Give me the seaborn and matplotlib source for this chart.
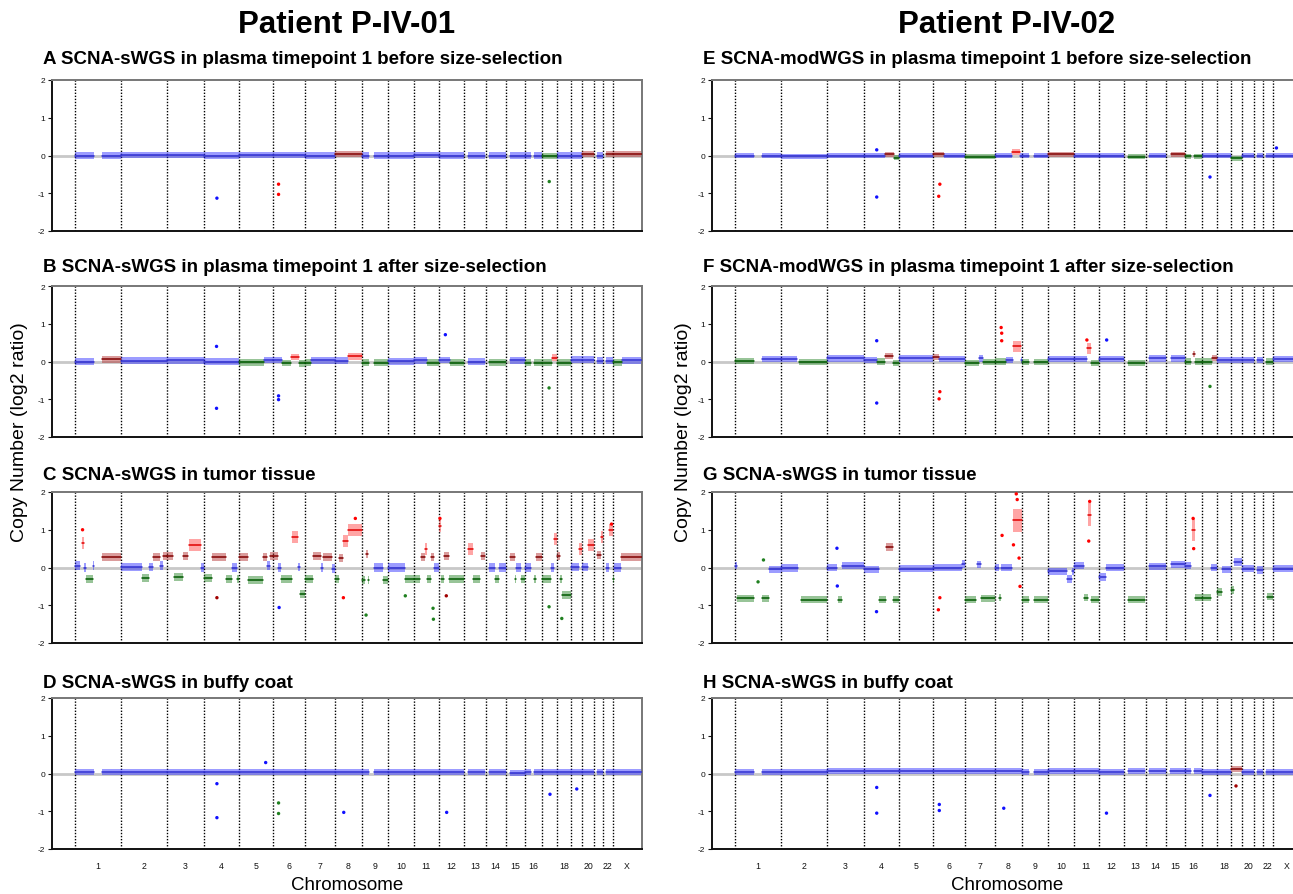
import numpy as np
import pandas as pd
import matplotlib
matplotlib.use('Agg')
import matplotlib.pyplot as plt
import seaborn as sns

# ---------------- genome layout ----------------
CHROMS = ['1', '2', '3', '4', '5', '6', '7', '8', '9', '10', '11', '12', '13', '14',
          '15', '16', '17', '18', '19', '20', '21', '22', 'X']
CHROM_LEN = [249.25, 243.2, 198.0, 191.15, 180.9, 171.1, 159.1, 146.4, 141.2, 135.5,
             135.0, 133.85, 115.2, 107.35, 102.5, 90.35, 81.2, 78.1, 59.1, 63.0, 48.1,
             51.3, 155.3]
TICK_CHROMS = ['1', '2', '3', '4', '5', '6', '7', '8', '9', '10', '11', '12', '13', '14',
               '15', '16', '18', '20', '22', 'X']
X_START = -120.0  # Mb, left margin of the genome axis

PATIENTS = ['Patient P-IV-01', 'Patient P-IV-02']
TITLES_LEFT = ['A SCNA-sWGS in plasma timepoint 1 before size-selection',
               'B SCNA-sWGS in plasma timepoint 1 after size-selection',
               'C SCNA-sWGS in tumor tissue',
               'D SCNA-sWGS in buffy coat']
TITLES_RIGHT = ['E SCNA-modWGS in plasma timepoint 1 before size-selection',
                'F SCNA-modWGS in plasma timepoint 1 after size-selection',
                'G SCNA-sWGS in tumor tissue',
                'H SCNA-sWGS in buffy coat']

# segments: (chromosome, start Mb, end Mb, log2 ratio, state)
# state: N neutral, G gain, A amplification, L loss
SEG_A = [
    ('1', 0, 105, 0.0, 'N'), ('1', 144, 249, 0.0, 'N'), ('2', 0, 243, 0.01, 'N'),
    ('3', 0, 198, 0.02, 'N'), ('4', 0, 191, 0.0, 'N'), ('5', 0, 181, 0.01, 'N'),
    ('6', 0, 171, 0.01, 'N'), ('7', 0, 159, 0.0, 'N'), ('8', 0, 146, 0.04, 'G'),
    ('9', 0, 39, 0.0, 'N'), ('9', 66, 141, 0.0, 'N'), ('10', 0, 135, 0.0, 'N'),
    ('11', 0, 135, 0.01, 'N'), ('12', 0, 134, 0.0, 'N'), ('13', 20, 115, 0.0, 'N'),
    ('14', 20, 107, 0.0, 'N'), ('15', 22, 102, 0.0, 'N'), ('16', 0, 32, 0.0, 'N'),
    ('16', 50, 90, 0.0, 'N'), ('17', 0, 81, -0.02, 'L'), ('18', 0, 78, 0.0, 'N'),
    ('19', 0, 59, 0.0, 'N'), ('20', 0, 63, 0.03, 'G'), ('21', 16, 48, 0.0, 'N'),
    ('22', 18, 51, 0.03, 'G'), ('X', 0, 155, 0.04, 'G'),
]
OUT_A = [('4', 71, -1.13, 'N'), ('6', 29, -0.76, 'A'), ('6', 29, -1.03, 'A'),
         ('17', 41, -0.69, 'L')]

SEG_B = [
    ('1', 0, 105, 0.0, 'N'), ('1', 144, 249, 0.06, 'G'), ('2', 0, 243, 0.02, 'N'),
    ('3', 0, 198, 0.03, 'N'), ('4', 0, 191, 0.0, 'N'), ('5', 0, 130, -0.02, 'L'),
    ('5', 130, 181, 0.04, 'N'), ('6', 0, 46, 0.04, 'N'), ('6', 46, 98, -0.04, 'L'),
    ('6', 98, 136, 0.12, 'A'), ('6', 136, 171, -0.05, 'L'), ('7', 0, 31, -0.03, 'L'),
    ('7', 31, 159, 0.03, 'N'), ('8', 0, 71, 0.02, 'N'), ('8', 71, 146, 0.14, 'A'),
    ('9', 0, 39, -0.03, 'L'), ('9', 66, 141, -0.03, 'L'), ('10', 0, 135, 0.01, 'N'),
    ('11', 0, 70, 0.03, 'N'), ('11', 70, 135, -0.03, 'L'), ('12', 0, 58, 0.04, 'N'),
    ('12', 58, 134, -0.03, 'L'), ('13', 20, 115, 0.0, 'N'), ('14', 20, 107, -0.02, 'L'),
    ('15', 22, 102, 0.03, 'N'), ('16', 0, 32, -0.03, 'L'), ('16', 50, 90, -0.03, 'L'),
    ('17', 0, 55, -0.03, 'L'), ('17', 55, 81, 0.1, 'A'), ('18', 0, 78, -0.03, 'L'),
    ('19', 0, 59, 0.05, 'N'), ('20', 0, 63, 0.05, 'N'), ('21', 16, 48, 0.02, 'N'),
    ('22', 18, 51, 0.02, 'N'), ('X', 0, 51, -0.02, 'L'), ('X', 51, 155, 0.03, 'N'),
]
OUT_B = [('4', 69, 0.4, 'N'), ('4', 69, -1.24, 'N'), ('6', 29, -0.91, 'N'),
         ('6', 29, -1.01, 'N'), ('12', 34, 0.71, 'N'), ('17', 40, -0.7, 'L')]

SEG_C = [
    ('1', 0, 30, 0.05, 'N'), ('1', 38, 50, 0.65, 'A'), ('1', 50, 60, 0.0, 'N'),
    ('1', 62, 98, -0.3, 'L'), ('1', 98, 105, 0.05, 'N'), ('1', 144, 249, 0.28, 'G'),
    ('2', 0, 110, 0.02, 'N'), ('2', 113, 148, -0.28, 'L'), ('2', 150, 170, 0.02, 'N'),
    ('2', 172, 205, 0.27, 'G'), ('2', 205, 225, 0.05, 'N'), ('2', 225, 243, 0.3, 'G'),
    ('3', 0, 36, 0.3, 'G'), ('3', 38, 88, -0.25, 'L'), ('3', 90, 115, 0.3, 'G'),
    ('3', 118, 185, 0.6, 'A'), ('3', 185, 198, 0.0, 'N'),
    ('4', 0, 45, -0.28, 'L'), ('4', 45, 122, 0.27, 'G'), ('4', 122, 152, -0.3, 'L'),
    ('4', 152, 178, 0.0, 'N'), ('4', 178, 191, -0.3, 'L'),
    ('5', 0, 45, 0.28, 'G'), ('5', 48, 125, -0.33, 'L'), ('5', 125, 150, 0.28, 'G'),
    ('5', 150, 165, 0.05, 'N'), ('5', 165, 181, 0.3, 'G'),
    ('6', 0, 25, 0.3, 'G'), ('6', 25, 40, 0.0, 'N'), ('6', 40, 100, -0.3, 'L'),
    ('6', 103, 135, 0.82, 'A'), ('6', 135, 142, 0.02, 'N'), ('6', 142, 171, -0.7, 'L'),
    ('7', 0, 45, -0.3, 'L'), ('7', 45, 85, 0.3, 'G'), ('7', 85, 95, 0.0, 'N'),
    ('7', 95, 145, 0.28, 'G'), ('7', 145, 159, -0.03, 'N'),
    ('8', 0, 20, -0.3, 'L'), ('8', 22, 42, 0.25, 'G'), ('8', 44, 70, 0.7, 'A'),
    ('8', 70, 146, 1.0, 'A'),
    ('9', 0, 18, -0.33, 'L'), ('9', 20, 30, 0.35, 'G'), ('9', 30, 39, -0.33, 'L'),
    ('9', 66, 110, 0.0, 'N'), ('9', 110, 141, -0.33, 'L'),
    ('10', 0, 90, 0.0, 'N'), ('10', 90, 135, -0.3, 'L'),
    ('11', 0, 32, -0.3, 'L'), ('11', 40, 58, 0.28, 'G'), ('11', 58, 70, 0.5, 'A'),
    ('11', 70, 94, -0.3, 'L'), ('11', 94, 110, 0.28, 'G'), ('11', 110, 135, 0.0, 'N'),
    ('12', 0, 10, 1.1, 'A'), ('12', 10, 25, -0.3, 'L'), ('12', 25, 55, 0.3, 'G'),
    ('12', 55, 134, -0.3, 'L'),
    ('13', 20, 50, 0.5, 'A'), ('13', 50, 88, -0.3, 'L'), ('13', 90, 115, 0.3, 'G'),
    ('14', 20, 50, 0.0, 'N'), ('14', 50, 70, -0.3, 'L'), ('14', 70, 107, 0.0, 'N'),
    ('15', 22, 50, 0.28, 'G'), ('15', 50, 56, -0.3, 'L'), ('15', 56, 80, 0.0, 'N'),
    ('15', 80, 102, -0.3, 'L'),
    ('16', 0, 32, 0.0, 'N'), ('16', 50, 58, -0.3, 'L'), ('16', 58, 90, 0.28, 'G'),
    ('17', 0, 52, -0.3, 'L'), ('17', 52, 64, 0.0, 'N'), ('17', 64, 81, 0.75, 'A'),
    ('18', 0, 15, 0.3, 'G'), ('18', 15, 28, -0.3, 'L'), ('18', 28, 78, -0.72, 'L'),
    ('19', 0, 40, 0.02, 'N'), ('19', 40, 59, 0.5, 'A'),
    ('20', 0, 30, 0.02, 'N'), ('20', 30, 63, 0.6, 'A'),
    ('21', 16, 38, 0.33, 'G'), ('21', 38, 48, 0.8, 'A'),
    ('22', 18, 32, 0.0, 'N'), ('22', 32, 51, 1.0, 'A'),
    ('X', 0, 8, -0.3, 'L'), ('X', 8, 45, 0.0, 'N'), ('X', 45, 155, 0.27, 'G'),
]
OUT_C = [('4', 71, -0.8, 'G'), ('6', 32, -1.06, 'N'), ('8', 46, -0.8, 'A'),
         ('9', 21, -1.26, 'L'), ('10', 90, -0.75, 'L'), ('11', 103, -1.08, 'L'),
         ('11', 105, -1.37, 'L'), ('12', 39, -0.75, 'G'), ('17', 40, -1.04, 'L'),
         ('18', 27, -1.35, 'L'), ('1', 42, 1.0, 'A'), ('12', 5, 1.3, 'A'),
         ('8', 110, 1.3, 'A'), ('22', 45, 1.15, 'A')]

SEG_D = [
    ('1', 0, 105, 0.03, 'N'), ('1', 144, 249, 0.03, 'N'), ('2', 0, 243, 0.03, 'N'),
    ('3', 0, 198, 0.04, 'N'), ('4', 0, 191, 0.04, 'N'), ('5', 0, 181, 0.04, 'N'),
    ('6', 0, 171, 0.03, 'N'), ('7', 0, 159, 0.03, 'N'), ('8', 0, 146, 0.03, 'N'),
    ('9', 0, 39, 0.03, 'N'), ('9', 66, 141, 0.03, 'N'), ('10', 0, 135, 0.03, 'N'),
    ('11', 0, 135, 0.04, 'N'), ('12', 0, 134, 0.03, 'N'), ('13', 20, 115, 0.03, 'N'),
    ('14', 20, 107, 0.03, 'N'), ('15', 22, 102, 0.02, 'N'), ('16', 0, 32, 0.03, 'N'),
    ('16', 50, 90, 0.03, 'N'), ('17', 0, 81, 0.03, 'N'), ('18', 0, 78, 0.03, 'N'),
    ('19', 0, 59, 0.05, 'N'), ('20', 0, 63, 0.04, 'N'), ('21', 16, 48, 0.03, 'N'),
    ('22', 18, 51, 0.03, 'N'), ('X', 0, 155, 0.03, 'N'),
]
OUT_D = [('4', 71, -0.27, 'N'), ('4', 71, -1.17, 'N'), ('5', 141, 0.29, 'N'),
         ('6', 29, -0.78, 'L'), ('6', 29, -1.06, 'L'), ('8', 48, -1.03, 'N'),
         ('12', 41, -1.03, 'N'), ('17', 45, -0.55, 'N'), ('19', 29, -0.41, 'N')]

SEG_E = [
    ('1', 0, 105, 0.0, 'N'), ('1', 144, 249, 0.0, 'N'), ('2', 0, 243, -0.02, 'N'),
    ('3', 0, 198, 0.0, 'N'), ('4', 0, 114, 0.0, 'N'), ('4', 114, 165, 0.03, 'G'),
    ('4', 165, 191, -0.06, 'L'), ('5', 0, 181, 0.0, 'N'), ('6', 0, 56, 0.03, 'G'),
    ('6', 56, 171, 0.0, 'N'), ('7', 0, 159, -0.03, 'L'), ('8', 0, 91, 0.0, 'N'),
    ('8', 91, 136, 0.1, 'A'), ('8', 136, 146, 0.0, 'N'), ('9', 0, 39, 0.0, 'N'),
    ('9', 66, 141, 0.0, 'N'), ('10', 0, 135, 0.03, 'G'), ('11', 0, 135, 0.0, 'N'),
    ('12', 0, 134, 0.0, 'N'), ('13', 20, 115, -0.03, 'L'), ('14', 20, 107, 0.0, 'N'),
    ('15', 28, 102, 0.03, 'G'), ('16', 0, 32, -0.02, 'L'), ('16', 50, 90, -0.02, 'L'),
    ('17', 0, 81, 0.0, 'N'), ('18', 0, 78, 0.0, 'N'), ('19', 0, 59, -0.07, 'L'),
    ('20', 0, 63, 0.0, 'N'), ('21', 16, 48, 0.0, 'N'), ('22', 18, 51, 0.0, 'N'),
    ('X', 0, 155, 0.0, 'N'),
]
OUT_E = [('4', 70, -1.1, 'N'), ('4', 70, 0.15, 'N'), ('6', 36, -0.76, 'A'),
         ('6', 30, -1.08, 'A'), ('17', 45, -0.57, 'N'), ('X', 20, 0.2, 'N')]

SEG_F = [
    ('1', 0, 105, 0.02, 'L'), ('1', 144, 249, 0.07, 'N'), ('2', 0, 85, 0.06, 'N'),
    ('2', 95, 243, -0.02, 'L'), ('3', 0, 198, 0.08, 'N'), ('4', 0, 73, 0.05, 'N'),
    ('4', 73, 114, 0.0, 'L'), ('4', 114, 158, 0.15, 'G'), ('4', 158, 191, -0.05, 'L'),
    ('5', 0, 181, 0.08, 'N'), ('6', 0, 30, 0.12, 'G'), ('6', 30, 171, 0.07, 'N'),
    ('7', 0, 76, -0.03, 'L'), ('7', 76, 97, 0.08, 'N'), ('7', 97, 159, -0.02, 'L'),
    ('8', 0, 59, 0.0, 'L'), ('8', 59, 95, 0.05, 'N'), ('8', 95, 140, 0.4, 'A'),
    ('8', 140, 146, 0.05, 'N'), ('9', 0, 39, -0.02, 'L'), ('9', 66, 141, -0.02, 'L'),
    ('10', 0, 135, 0.07, 'N'), ('11', 0, 68, 0.07, 'N'), ('11', 68, 90, 0.35, 'A'),
    ('11', 90, 135, -0.03, 'L'), ('12', 0, 134, 0.07, 'N'), ('13', 20, 115, -0.03, 'L'),
    ('14', 20, 107, 0.08, 'N'), ('15', 28, 102, 0.08, 'N'), ('16', 0, 32, 0.0, 'L'),
    ('16', 46, 56, 0.2, 'G'), ('16', 56, 90, 0.0, 'L'), ('17', 0, 55, 0.0, 'L'),
    ('17', 55, 81, 0.1, 'G'), ('18', 0, 78, 0.05, 'N'), ('19', 0, 59, 0.05, 'N'),
    ('20', 0, 63, 0.05, 'N'), ('21', 16, 48, 0.05, 'N'), ('22', 18, 51, 0.0, 'L'),
    ('X', 0, 155, 0.07, 'N'),
]
OUT_F = [('4', 70, 0.55, 'N'), ('4', 70, -1.1, 'N'), ('6', 36, -0.8, 'A'),
         ('6', 32, -0.99, 'A'), ('8', 34, 0.9, 'A'), ('8', 37, 0.75, 'A'),
         ('8', 37, 0.55, 'A'), ('11', 70, 0.57, 'A'), ('12', 41, 0.57, 'N'),
         ('17', 45, -0.66, 'L')]

SEG_G = [
    ('1', 0, 10, 0.05, 'N'), ('1', 10, 105, -0.82, 'L'), ('1', 144, 181, -0.82, 'L'),
    ('1', 181, 249, -0.05, 'N'), ('2', 0, 92, -0.02, 'N'), ('2', 104, 243, -0.85, 'L'),
    ('3', 0, 53, 0.0, 'N'), ('3', 62, 80, -0.85, 'L'), ('3', 80, 198, 0.05, 'N'),
    ('4', 0, 80, -0.05, 'N'), ('4', 80, 120, -0.85, 'L'), ('4', 122, 155, 0.55, 'G'),
    ('4', 157, 191, -0.85, 'L'), ('5', 0, 181, -0.03, 'N'), ('6', 0, 155, 0.0, 'N'),
    ('6', 155, 171, 0.1, 'N'), ('7', 0, 60, -0.85, 'L'), ('7', 62, 85, 0.08, 'N'),
    ('7', 85, 159, -0.82, 'L'), ('8', 0, 20, 0.0, 'N'), ('8', 20, 35, -0.8, 'L'),
    ('8', 35, 92, 0.0, 'N'), ('8', 95, 146, 1.25, 'A'), ('9', 0, 39, -0.85, 'L'),
    ('9', 66, 141, -0.85, 'L'), ('10', 0, 100, -0.1, 'N'), ('10', 100, 125, -0.3, 'N'),
    ('10', 125, 135, -0.1, 'N'), ('11', 0, 55, 0.05, 'N'), ('11', 57, 75, -0.8, 'L'),
    ('11', 77, 92, 1.4, 'A'), ('11', 92, 135, -0.85, 'L'), ('12', 0, 38, -0.25, 'N'),
    ('12', 38, 134, 0.0, 'N'), ('13', 20, 115, -0.85, 'L'), ('14', 20, 107, 0.03, 'N'),
    ('15', 28, 102, 0.08, 'N'), ('16', 0, 32, 0.05, 'N'), ('16', 41, 55, 1.0, 'A'),
    ('16', 55, 90, -0.8, 'L'), ('17', 0, 52, -0.8, 'L'), ('17', 52, 81, 0.0, 'N'),
    ('18', 0, 30, -0.65, 'L'), ('18', 30, 78, -0.05, 'N'), ('19', 0, 12, -0.6, 'L'),
    ('19', 12, 59, 0.15, 'N'), ('20', 0, 63, -0.03, 'N'), ('21', 16, 48, -0.06, 'N'),
    ('22', 20, 51, -0.77, 'L'), ('X', 0, 155, -0.03, 'N'),
]
OUT_G = [('4', 69, -1.17, 'N'), ('6', 36, -0.8, 'A'), ('6', 28, -1.12, 'A'),
         ('1', 154, 0.2, 'L'), ('1', 125, -0.38, 'L'), ('3', 55, 0.51, 'N'),
         ('3', 57, -0.49, 'N'), ('8', 39, 0.85, 'A'), ('8', 115, 1.95, 'A'),
         ('8', 120, 1.8, 'A'), ('8', 130, 0.25, 'A'), ('8', 135, -0.5, 'A'),
         ('8', 100, 0.6, 'A'), ('11', 85, 1.75, 'A'), ('11', 80, 0.7, 'A'),
         ('16', 48, 0.5, 'A'), ('16', 45, 1.3, 'A')]

SEG_H = [
    ('1', 0, 105, 0.05, 'N'), ('1', 144, 249, 0.05, 'N'), ('2', 0, 243, 0.05, 'N'),
    ('3', 0, 198, 0.06, 'N'), ('4', 0, 191, 0.06, 'N'), ('5', 0, 181, 0.06, 'N'),
    ('6', 0, 171, 0.06, 'N'), ('7', 0, 159, 0.06, 'N'), ('8', 0, 146, 0.06, 'N'),
    ('9', 0, 39, 0.05, 'N'), ('9', 66, 141, 0.05, 'N'), ('10', 0, 135, 0.06, 'N'),
    ('11', 0, 135, 0.06, 'N'), ('12', 0, 134, 0.05, 'N'), ('13', 20, 115, 0.06, 'N'),
    ('14', 20, 107, 0.06, 'N'), ('15', 22, 102, 0.06, 'N'), ('16', 0, 32, 0.06, 'N'),
    ('16', 50, 90, 0.06, 'N'), ('17', 0, 81, 0.05, 'N'), ('18', 0, 78, 0.05, 'N'),
    ('19', 0, 59, 0.12, 'G'), ('20', 0, 63, 0.05, 'N'), ('21', 16, 48, 0.05, 'N'),
    ('22', 18, 51, 0.05, 'N'), ('X', 0, 155, 0.05, 'N'),
]
OUT_H = [('4', 70, -0.37, 'N'), ('4', 70, -1.05, 'N'), ('6', 33, -0.82, 'N'),
         ('6', 33, -0.98, 'N'), ('8', 48, -0.92, 'N'), ('12', 40, -1.05, 'N'),
         ('17', 45, -0.58, 'N'), ('19', 25, -0.33, 'G')]

# scatter spread (log2 units) of bins around a segment
NOISE = {'A': 0.08, 'B': 0.09, 'C': 0.11, 'D': 0.08,
         'E': 0.07, 'F': 0.08, 'G': 0.1, 'H': 0.08}
AMP_NOISE = {'A': 0.08, 'B': 0.09, 'C': 0.16, 'D': 0.08,
             'E': 0.08, 'F': 0.14, 'G': 0.3, 'H': 0.08}

# ---------------- styles ----------------
BAND_COLORS = {'N': '#2525ff', 'G': '#b02525', 'A': '#ff2020', 'L': '#1b7d1b'}
BAND_ALPHA = {'N': 0.45, 'G': 0.45, 'A': 0.4, 'L': 0.45}
LINE_COLORS = {'N': '#3030d0', 'G': '#800000', 'A': '#e00000', 'L': '#005a00'}
POINT_COLORS = {'N': '#1010ff', 'G': '#a00000', 'A': '#ff0000', 'L': '#208020'}

sns.set_style('ticks')
plt.rcParams['font.family'] = ['Liberation Sans', 'DejaVu Sans']
plt.rcParams['axes.unicode_minus'] = False
plt.rcParams['text.color'] = 'black'
plt.rcParams['axes.labelcolor'] = 'black'
plt.rcParams['xtick.color'] = 'black'
plt.rcParams['ytick.color'] = 'black'

CHROM_START = np.concatenate([[0.0], np.cumsum(CHROM_LEN)[:-1]])
GENOME_END = float(np.sum(CHROM_LEN))
IDX = {c: i for i, c in enumerate(CHROMS)}
TICK_POS = [CHROM_START[IDX[c]] + CHROM_LEN[IDX[c]] / 2 for c in TICK_CHROMS]


def draw_panel(ax, key, segs, outs, bottom):
    ax.set_xlim(X_START, GENOME_END)
    ax.set_ylim(-2, 2)
    ax.axhline(0, color='#c8c8c8', lw=2.0, zorder=1)
    for s in CHROM_START:
        ax.axvline(s, color='black', lw=1.0, ls=(0, (1, 1.2)), zorder=1.5)
    rows = []
    for i, (c, a, b, v, st) in enumerate(segs):
        x0 = CHROM_START[IDX[c]] + a
        x1 = CHROM_START[IDX[c]] + b
        sp = AMP_NOISE[key] if st == 'A' else NOISE[key]
        ax.fill_between([x0, x1], [v - sp, v - sp], [v + sp, v + sp],
                        color=BAND_COLORS[st], alpha=BAND_ALPHA[st], lw=0, zorder=2)
        rows.append(dict(seg=i, pos=x0, val=v, state=st))
        rows.append(dict(seg=i, pos=x1, val=v, state=st))
    df = pd.DataFrame(rows)
    sns.lineplot(data=df, x='pos', y='val', units='seg', estimator=None, hue='state',
                 palette=LINE_COLORS, legend=False, lw=1.1, sort=False, ax=ax, zorder=3)
    od = pd.DataFrame([dict(pos=CHROM_START[IDX[c]] + p, val=v, state=st)
                       for (c, p, v, st) in outs])
    sns.scatterplot(data=od, x='pos', y='val', hue='state', palette=POINT_COLORS,
                    s=6, linewidth=0, legend=False, ax=ax, zorder=4)
    ax.set_xlabel('')
    ax.set_ylabel('')
    ax.set_yticks([-2, -1, 0, 1, 2])
    ax.set_yticklabels(['-2', '-1', '0', '1', '2'])
    ax.tick_params(axis='y', labelsize=6, length=3, width=0.8, pad=2, colors='#111111')
    ax.set_xticks(TICK_POS)
    if bottom:
        ax.set_xticklabels(TICK_CHROMS)
    else:
        ax.set_xticklabels([])
    ax.tick_params(axis='x', length=0, labelsize=6.3, pad=9, colors='#111111')
    for s in ['left', 'bottom']:
        ax.spines[s].set_color('#111111')
        ax.spines[s].set_linewidth(1.4)
    for s in ['top', 'right']:
        ax.spines[s].set_color('#777777')
        ax.spines[s].set_linewidth(1.4)


fig = plt.figure(figsize=(12.93, 8.95), dpi=100)
W, H = 1293.0, 895.0
col_left = [52.3 / W, 712.3 / W]
ax_w = 589.4 / W
row_bottom_px = [232, 438, 644, 850]
ax_h = 151 / H

panels_left = [('A', SEG_A, OUT_A), ('B', SEG_B, OUT_B), ('C', SEG_C, OUT_C), ('D', SEG_D, OUT_D)]
panels_right = [('E', SEG_E, OUT_E), ('F', SEG_F, OUT_F), ('G', SEG_G, OUT_G), ('H', SEG_H, OUT_H)]
title_y_px = [60, 268, 475, 684]

for col, (panels, titles) in enumerate([(panels_left, TITLES_LEFT), (panels_right, TITLES_RIGHT)]):
    for r, (key, segs, outs) in enumerate(panels):
        ax = fig.add_axes([col_left[col], 1 - row_bottom_px[r] / H, ax_w, ax_h])
        draw_panel(ax, key, segs, outs, bottom=(r == 3))
        fig.text([43 / W, 703 / W][col], 1 - title_y_px[r] / H, titles[r],
                 fontsize=13.5, fontweight='bold', ha='left', va='center', color='black')
    cx = col_left[col] + ax_w / 2 if col == 0 else 1007 / W
    fig.text(cx, 1 - 25 / H, PATIENTS[col], fontsize=22.5, fontweight='bold',
             ha='center', va='center', color='black')
    fig.text(cx, 1 - 886 / H, 'Chromosome', fontsize=13.5, ha='center', va='center',
             color='black')
    fig.text([20 / W, 683 / W][col], 1 - 432 / H, 'Copy Number (log2 ratio)',
             fontsize=14, rotation=90, ha='center', va='center', color='black')

fig.savefig('out.png', dpi=100)
